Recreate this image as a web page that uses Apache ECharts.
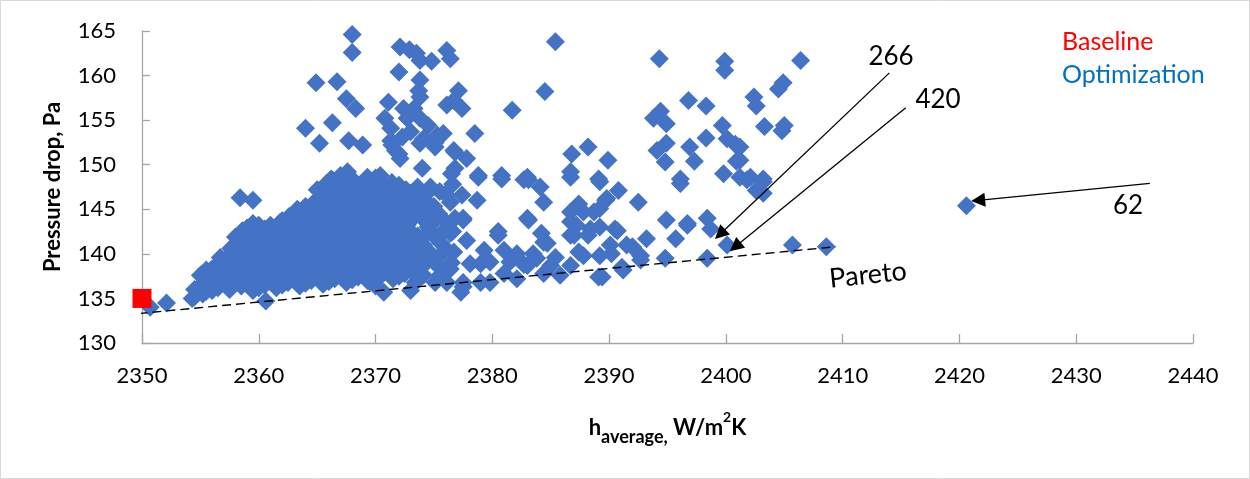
<!DOCTYPE html>
<html>
<head>
<meta charset="utf-8">
<script src="https://cdn.jsdelivr.net/npm/echarts@6/dist/echarts.min.js"></script>
<style>
html,body{margin:0;padding:0;background:#fff;}
#chart{width:1250px;height:479px;}
</style>
</head>
<body>
<div id="chart"></div>
<script>
// ---- axis ranges / ticks ----
const xMin = 2350, xMax = 2440, xStep = 10;
const yMin = 130, yMax = 165, yStep = 5;

// ---- Baseline design [h_average, pressure drop] ----
const baseline = [[2350.0, 135.0]];

// ---- Optimization designs ----
const optUpperLeft = [
  [2368.0,164.6],[2368.0,162.6],[2364.9,159.2],[2366.7,159.3],[2367.5,157.4],[2368.3,156.3],
  [2364.0,154.1],[2366.3,154.7],[2365.2,152.4],[2367.7,152.7],[2368.9,152.2],[2367.6,149.2],
  [2366.2,148.4],[2369.3,148.6],[2358.4,146.3],[2359.5,146.0]
];
const optUpperMid = [
  [2372.1,163.2],[2372.9,162.9],[2373.5,162.5],[2373.8,161.7],[2374.8,161.6],[2376.1,162.8],[2376.4,161.9],
  [2372.0,160.4],[2373.8,159.5],[2373.7,158.3],[2373.8,157.6],[2377.1,158.3],[2371.1,157.0],
  [2373.3,156.3],[2372.4,156.3],[2376.1,156.7],[2376.7,157.2],[2377.4,156.3],[2370.8,155.2],[2372.7,155.2],
  [2373.8,155.2],[2374.5,154.4],[2371.3,154.1],[2373.0,153.7],[2372.3,153.1],[2374.1,152.9],[2375.3,153.3],
  [2375.8,153.5],[2378.5,153.5],[2371.3,152.7],[2371.4,152.2],[2373.8,152.4],[2375.1,152.5],[2371.7,151.6],
  [2372.0,151.2],[2375.1,152.0],[2376.7,151.6],[2376.8,151.4],[2372.1,150.7],[2377.8,150.7],[2374.0,149.6],
  [2376.8,149.6],[2370.4,148.8],[2378.8,148.8],[2380.8,148.8],[2383.0,148.6],
  [2381.7,156.1],[2384.5,158.2],[2385.4,163.8],[2386.8,151.2],[2388.2,152.0],[2386.7,149.2],
  [2389.9,150.5],[2389.1,148.4]
];
const optUpperRight = [
  [2394.3,161.9],[2399.9,161.6],[2399.9,160.6],[2406.4,161.7],[2404.9,159.2],[2404.5,158.5],
  [2402.4,157.6],[2402.6,156.6],[2396.8,157.2],[2398.3,156.6],[2394.4,156.0],[2393.8,155.2],
  [2394.9,154.6],[2399.7,154.4],[2403.3,154.3],[2405.0,154.4],[2404.8,153.8],[2398.3,153.0],
  [2400.1,152.9],[2400.8,152.3],[2394.9,152.4],[2394.1,151.6],[2396.9,152.0],[2394.8,150.3],
  [2397.3,150.4],[2400.9,150.4],[2399.8,149.0],[2396.1,148.4],[2401.2,148.6],[2402.1,148.6],
  [2403.2,148.4],[2401.2,152.0],[2401.2,150.5],[2403.2,148.1],[2403.2,146.8],[2396.1,147.9],
  [2402.6,147.1],[2401.8,148.3]
];
const optDense = [
  [2354.5,135.2],[2354.5,136.0],[2355.2,135.5],
  [2355.5,135.8],[2355.5,137.0],[2355.5,138.2],
  [2356.5,136.2],[2356.5,137.4],[2356.5,138.8],[2356.7,139.6],
  [2357.5,136.0],[2357.5,137.2],[2357.5,138.5],[2357.5,139.8],[2357.6,140.6],
  [2358.5,136.4],[2358.5,137.6],[2358.5,138.9],[2358.4,140.2],[2358.5,141.5],[2358.6,142.6],
  [2359.5,135.9],[2359.5,137.1],[2359.5,138.4],[2359.5,139.7],[2359.5,140.9],[2359.3,142.1],[2359.5,143.4],
  [2360.5,136.5],[2360.5,137.8],[2360.5,139.0],[2360.5,140.3],[2360.5,141.6],[2360.5,142.8],
  [2361.5,136.2],[2361.5,137.4],[2361.5,138.7],[2361.5,140.0],[2361.5,141.2],[2361.5,142.4],[2361.8,143.5],
  [2362.5,136.8],[2362.5,138.0],[2362.5,139.3],[2362.5,140.6],[2362.5,141.8],[2362.5,143.0],[2362.6,144.2],
  [2363.5,136.4],[2363.5,137.6],[2363.5,138.9],[2363.5,140.1],[2363.5,141.4],[2363.5,142.7],[2363.5,143.9],[2363.3,145.0],
  [2364.5,137.0],[2364.5,138.3],[2364.5,139.5],[2364.5,140.8],[2364.5,142.0],[2364.5,143.3],[2364.5,144.5],[2364.6,145.6],
  [2365.5,136.6],[2365.5,137.9],[2365.5,139.1],[2365.5,140.4],[2365.5,141.7],[2365.5,142.9],[2365.5,144.2],[2365.5,145.4],[2365.6,146.6],[2365.8,147.9],
  [2366.5,137.2],[2366.5,138.5],[2366.5,139.8],[2366.5,141.0],[2366.5,142.3],[2366.5,143.5],[2366.5,144.8],[2366.5,146.0],[2366.5,147.3],[2366.4,148.2],
  [2367.5,136.8],[2367.5,138.0],[2367.5,139.3],[2367.5,140.6],[2367.5,141.9],[2367.5,143.1],[2367.5,144.4],[2367.5,145.7],[2367.5,146.9],[2367.6,148.5],
  [2368.5,137.4],[2368.5,138.7],[2368.5,140.0],[2368.5,141.2],[2368.5,142.5],[2368.5,143.8],[2368.5,145.0],[2368.5,146.3],[2368.5,147.6],
  [2369.5,136.9],[2369.5,138.2],[2369.5,139.5],[2369.5,140.8],[2369.5,142.0],[2369.5,143.3],[2369.5,144.6],[2369.5,145.9],[2369.5,147.1],[2369.4,148.3],
  [2370.5,137.6],[2370.5,138.9],[2370.5,140.1],[2370.5,141.4],[2370.5,142.7],[2370.5,144.0],[2370.5,145.2],[2370.5,146.5],[2370.5,147.8],
  [2371.5,137.2],[2371.5,138.5],[2371.5,139.8],[2371.5,141.0],[2371.5,142.3],[2371.5,143.6],[2371.5,144.9],[2371.6,146.8],[2371.4,148.0],
  [2372.5,137.8],[2372.5,139.0],[2372.5,140.4],[2372.6,141.7],[2372.5,143.0],[2372.5,144.3],[2372.5,145.5],[2372.6,147.2],
  [2373.5,138.5],[2373.5,139.7],[2373.6,142.0],[2373.4,144.8],[2373.5,146.0],[2373.6,147.5],
  [2374.5,139.2],[2374.4,140.5],[2374.5,143.0],[2374.6,145.6],[2374.4,146.8],
  [2375.5,138.4],[2375.6,141.2],[2375.4,144.5],[2375.5,147.0],
  [2376.5,139.0],[2376.6,142.5],[2376.4,145.8],[2376.6,147.8]
];
const optDenseFill = [
  [2355.0,136.4],[2355.0,137.6],
  [2356.0,135.9],[2356.0,137.1],[2356.0,138.3],
  [2357.0,136.8],[2357.0,138.0],[2357.0,139.2],
  [2358.0,136.9],[2358.0,138.2],[2358.0,139.5],[2358.0,140.8],[2358.0,141.9],
  [2359.0,136.6],[2359.0,137.8],[2359.0,139.1],[2359.0,140.4],[2359.0,141.6],[2359.0,142.9],
  [2360.0,136.2],[2360.0,137.4],[2360.0,138.7],[2360.0,140.0],[2360.0,141.3],[2360.0,142.5],[2360.0,143.2],
  [2361.0,136.9],[2361.0,138.2],[2361.0,139.5],[2361.0,140.8],[2361.0,142.0],[2361.0,143.2],
  [2362.0,136.5],[2362.0,137.7],[2362.0,139.0],[2362.0,140.3],[2362.0,141.5],[2362.0,142.7],[2362.0,143.7],
  [2363.0,137.1],[2363.0,138.4],[2363.0,139.7],[2363.0,140.9],[2363.0,142.2],[2363.0,143.4],[2363.0,144.5],
  [2364.0,136.7],[2364.0,137.9],[2364.0,139.2],[2364.0,140.5],[2364.0,141.7],[2364.0,143.0],[2364.0,144.2],[2364.0,145.3],
  [2365.0,137.3],[2365.0,138.6],[2365.0,139.8],[2365.0,141.1],[2365.0,142.4],[2365.0,143.6],[2365.0,144.9],[2365.0,146.0],[2365.0,147.2],
  [2366.0,136.9],[2366.0,138.2],[2366.0,139.5],[2366.0,140.7],[2366.0,142.0],[2366.0,143.2],[2366.0,144.5],[2366.0,145.7],[2366.0,147.0],[2366.0,148.0],
  [2367.0,137.5],[2367.0,138.8],[2367.0,140.1],[2367.0,141.3],[2367.0,142.6],[2367.0,143.9],[2367.0,145.1],[2367.0,146.4],[2367.0,147.6],[2367.0,148.8],
  [2368.0,137.1],[2368.0,138.4],[2368.0,139.7],[2368.0,140.9],[2368.0,142.2],[2368.0,143.5],[2368.0,144.7],[2368.0,146.0],[2368.0,147.3],[2368.0,148.4],
  [2369.0,137.8],[2369.0,139.0],[2369.0,140.3],[2369.0,141.6],[2369.0,142.8],[2369.0,144.1],[2369.0,145.4],[2369.0,146.6],[2369.0,147.8],
  [2370.0,136.4],[2370.0,137.3],[2370.0,138.6],[2370.0,139.9],[2370.0,141.1],[2370.0,142.4],[2370.0,143.7],[2370.0,144.9],[2370.0,146.2],[2370.0,147.4],[2370.0,148.5],
  [2371.0,137.9],[2371.0,139.2],[2371.0,140.5],[2371.0,141.8],[2371.0,143.0],[2371.0,144.3],[2371.0,145.6],[2371.0,147.3],
  [2372.0,137.5],[2372.0,138.8],[2372.0,140.1],[2372.0,141.3],[2372.0,142.6],[2372.0,143.9],[2372.0,145.2],[2372.0,146.4],[2372.0,147.7],
  [2373.0,138.2],[2373.0,139.4],[2373.0,140.8],[2373.0,142.5],[2373.0,143.7],[2373.0,145.0],[2373.0,146.8],
  [2374.0,138.8],[2374.0,140.0],[2374.0,141.8],[2374.0,144.0],[2374.0,146.3],
  [2375.0,139.6],[2375.0,142.0],[2375.0,145.3],
  [2376.0,140.6],[2376.0,143.6],[2376.0,146.7]
];
const optMid = [
  [2378.7,146.0],[2377.4,146.6],[2376.5,149.0],[2374.7,147.5],[2378.8,148.6],[2382.7,148.3],
  [2384.1,147.5],[2384.4,145.8],[2383.1,143.8],[2380.5,142.5],[2377.5,143.8],[2377.8,141.5],
  [2376.4,142.3],[2379.3,140.4],[2381.0,140.4],[2382.1,140.0],[2383.5,140.0],[2384.7,141.2],
  [2383.0,144.0],[2380.5,142.1],[2384.4,141.3],[2386.7,142.1],[2387.2,143.2],[2388.4,142.8],
  [2386.7,144.7],[2387.8,144.7],[2389.2,145.1],[2389.2,148.1],[2386.7,148.6],[2383.1,148.3],
  [2380.8,148.4],[2392.5,145.8],[2390.8,147.1],[2389.8,146.2],[2394.9,143.8],[2396.7,143.2],
  [2398.4,144.0],[2398.7,142.8],[2395.7,141.7],[2400.1,141.0],[2405.7,141.0],[2408.6,140.8],
  [2398.4,139.5],[2394.8,139.5],[2393.2,141.7],[2390.5,142.8],[2391.5,141.0],[2392.7,139.8],
  [2391.2,138.2],[2389.4,137.4],[2389.2,139.8],[2390.1,141.0],[2390.7,142.6],[2389.2,143.0],
  [2386.7,143.6],[2387.0,142.1],[2385.4,139.6],[2385.8,137.6],[2387.4,140.2],[2389.1,137.4],
  [2390.2,140.0],[2391.1,138.5],[2392.0,140.8],[2392.7,139.3],[2388.2,142.1],[2384.2,142.3],
  [2387.4,145.6],[2388.7,144.7],[2389.7,146.0],[2396.7,143.4]
];
const optLower = [
  [2370.7,135.7],[2373.4,136.8],[2373.0,135.9],[2375.1,136.8],[2377.3,135.7],[2377.5,136.8],
  [2379.0,136.8],[2379.8,136.8],[2378.1,138.9],[2379.0,138.9],[2379.8,139.1],[2381.5,139.1],
  [2376.7,140.2],[2375.5,139.8],[2374.1,141.0],[2373.5,140.2],[2372.1,141.7],[2372.7,143.2],
  [2374.7,143.2],[2375.8,142.5],[2374.1,137.6],[2375.5,137.6],[2376.4,138.3],[2376.1,136.8],
  [2381.0,137.8],[2382.1,137.2],[2383.0,138.7],[2383.8,139.5],[2385.0,138.7],[2386.7,138.7],
  [2387.8,139.8],[2374.8,144.1],[2374.3,145.1],[2376.8,144.0],[2377.5,144.0],[2382.7,138.8],
  [2384.4,137.8],[2369.3,137.0],[2373.8,137.4],[2377.5,136.3],[2360.6,134.7],[2350.7,134.0],
  [2352.1,134.5],[2354.3,135.0]
];
const optOutlier = [[2420.6,145.4]];

// ---- Pareto front (dashed) ----
const paretoH = [2349.7, 2409.4];
const paretoDp = [133.3, 140.8];

// ---- annotation arrows: label, tail [h, dp], head [h, dp] ----
const arrowLabels = ['266', '420', '62'];
const arrowTails = [[2414.0,160.3],[2415.4,156.4],[2436.3,147.9]];
const arrowHeads = [[2399.5,142.2],[2400.8,140.8],[2421.6,146.0]];

const FONT = 'Lato, "Open Sans", sans-serif';
const optData = [].concat(optUpperLeft, optUpperMid, optUpperRight, optDense, optDenseFill, optMid, optLower, optOutlier);
const paretoData = paretoH.map((h, i) => [h, paretoDp[i]]);

const chart = echarts.init(document.getElementById('chart'), null, {renderer: 'canvas'});
chart.setOption({
  animation: false,
  backgroundColor: '#ffffff',
  grid: {left: 142, right: 57, top: 31, bottom: 136, containLabel: false},
  xAxis: {
    type: 'value', min: xMin, max: xMax, interval: xStep,
    axisLine: {show: true, lineStyle: {color: '#A6A6A6', width: 1.3}},
    axisTick: {show: true, inside: true, length: 9, lineStyle: {color: '#A6A6A6', width: 1.3}},
    splitLine: {show: false},
    axisLabel: {color: '#000', fontSize: 22, fontFamily: FONT, margin: 22, formatter: v => String(v)},
    name: '{m|h}{s|average,}{m| W/m}{p|2}{m|K}',
    nameLocation: 'middle', nameGap: 67,
    nameTextStyle: {
      rich: {
        m: {fontSize: 22, fontWeight: 'bold', fontFamily: FONT, color: '#000', lineHeight: 36},
        s: {fontSize: 18, fontWeight: 'bold', fontFamily: FONT, color: '#000', lineHeight: 17, verticalAlign: 'bottom'},
        p: {fontSize: 14, fontWeight: 'bold', fontFamily: FONT, color: '#000', lineHeight: 26, verticalAlign: 'top'}
      }
    }
  },
  yAxis: {
    type: 'value', min: yMin, max: yMax, interval: yStep,
    axisLine: {show: true, lineStyle: {color: '#A6A6A6', width: 1.3}},
    axisTick: {show: true, inside: true, length: 8, lineStyle: {color: '#A6A6A6', width: 1.3}},
    splitLine: {show: false},
    axisLabel: {color: '#000', fontSize: 22, fontFamily: FONT, margin: 26},
    name: 'Pressure drop, Pa',
    nameLocation: 'middle', nameGap: 78, nameRotate: 90,
    nameTextStyle: {fontSize: 22, fontWeight: 'bold', fontFamily: FONT, color: '#000'}
  },
  legend: {
    show: true, orient: 'vertical', left: 1052, top: 24, itemGap: 8,
    itemWidth: 0, itemHeight: 0, icon: 'rect', selectedMode: false,
    textStyle: {fontSize: 25, fontFamily: FONT},
    data: [
      {name: 'Baseline', textStyle: {color: '#FF0000'}},
      {name: 'Optimization', textStyle: {color: '#0070C0'}}
    ]
  },
  series: [
    {
      name: 'Optimization', type: 'scatter', data: optData,
      symbol: 'diamond', symbolSize: 19,
      itemStyle: {color: '#4472C4', opacity: 1}, z: 2, silent: true
    },
    {
      name: 'Pareto', type: 'line', data: paretoData, symbol: 'none', clip: false,
      lineStyle: {color: '#000', width: 1.4, type: [9, 5]}, z: 3, silent: true,
      markLine: {
        silent: true, animation: false,
        symbol: ['none', 'triangle'], symbolSize: 14,
        lineStyle: {color: '#000', width: 1.3, type: 'solid'},
        label: {show: false},
        data: arrowTails.map((t, i) => [{coord: t}, {coord: arrowHeads[i]}])
      }
    },
    {
      name: 'Baseline', type: 'scatter', data: baseline,
      symbol: 'rect', symbolSize: 19,
      itemStyle: {color: '#FF0000', opacity: 1}, z: 4, silent: true
    }
  ],
  graphic: [
    {type: 'rect', shape: {x: 0.5, y: 0.5, width: 1249, height: 478}, style: {fill: 'none', stroke: '#D9D9D9', lineWidth: 1}, silent: true},
    {type: 'text', x: 891, y: 57, style: {text: arrowLabels[0], font: '26px ' + FONT, fill: '#000', align: 'center', verticalAlign: 'middle'}},
    {type: 'text', x: 938, y: 100, style: {text: arrowLabels[1], font: '26px ' + FONT, fill: '#000', align: 'center', verticalAlign: 'middle'}},
    {type: 'text', x: 1128, y: 206, style: {text: arrowLabels[2], font: '26px ' + FONT, fill: '#000', align: 'center', verticalAlign: 'middle'}},
    {type: 'text', x: 868, y: 275, rotation: 6 * Math.PI / 180, style: {text: 'Pareto', font: '27px ' + FONT, fill: '#000', align: 'center', verticalAlign: 'middle'}}
  ]
});
</script>
</body>
</html>
